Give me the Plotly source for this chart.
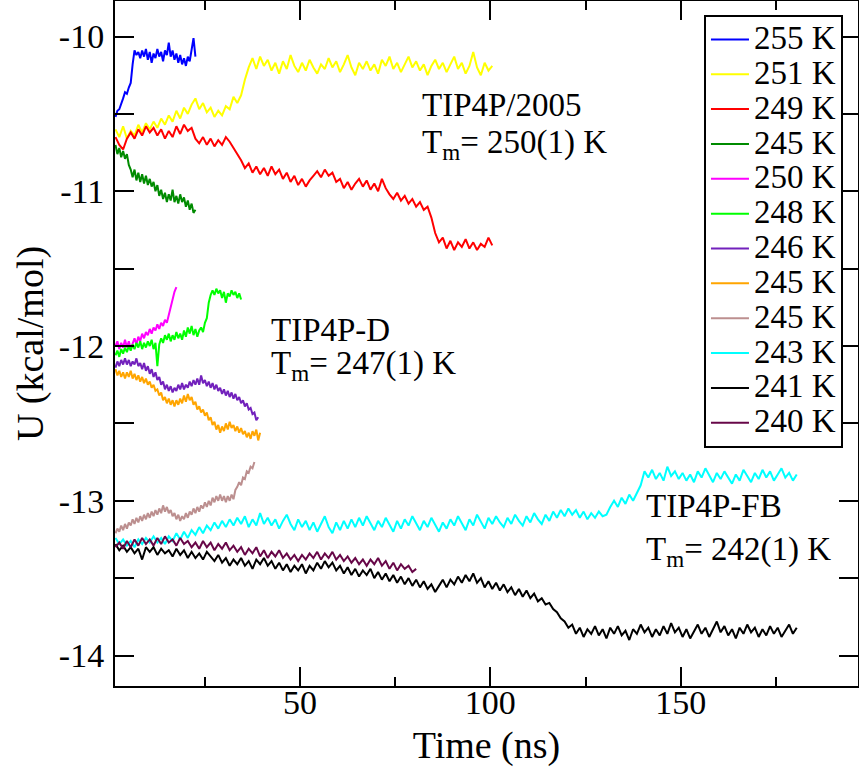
import numpy as np
import plotly.graph_objects as go

# ---------------- data ----------------
labels = ["255 K", "251 K", "249 K", "245 K", "250 K", "248 K",
          "246 K", "245 K", "245 K", "243 K", "241 K", "240 K"]
colors = ["#0000ff", "#ffff00", "#ff0000", "#008b00", "#ff00ff", "#00ff00",
          "#7221bc", "#ffa500", "#bc8f8f", "#00ffff", "#000000", "#670748"]

# sampling of the read-off series (ns)
fine_start, fine_step = 1.5, 0.5
coarse_start, coarse_step = 1.5, 1.0

u255 = [-10.52, -10.48, -10.47, -10.44, -10.40, -10.36, -10.37, -10.33, -10.30, -10.18,
        -10.09, -10.12, -10.10, -10.14, -10.09, -10.13, -10.08, -10.15, -10.10, -10.17,
        -10.11, -10.14, -10.08, -10.13, -10.10, -10.16, -10.09, -10.12, -10.04, -10.13,
        -10.09, -10.15, -10.11, -10.17, -10.12, -10.18, -10.14, -10.19, -10.13, -10.16,
        -10.08, -10.01, -10.13]

u251 = [-10.60, -10.65, -10.58, -10.66, -10.61, -10.64, -10.57, -10.62, -10.56, -10.60,
        -10.55, -10.59, -10.53, -10.57, -10.51, -10.55, -10.48, -10.53, -10.46, -10.50,
        -10.44, -10.40, -10.47, -10.43, -10.49, -10.46, -10.52, -10.48, -10.51, -10.45,
        -10.47, -10.39, -10.43, -10.38, -10.28, -10.20, -10.14, -10.21, -10.13, -10.19,
        -10.15, -10.22, -10.17, -10.24, -10.16, -10.21, -10.12, -10.19, -10.23, -10.17,
        -10.22, -10.15, -10.20, -10.24, -10.18, -10.21, -10.14, -10.20, -10.16, -10.23,
        -10.18, -10.12, -10.20, -10.25, -10.17, -10.21, -10.16, -10.22, -10.18, -10.24,
        -10.15, -10.19, -10.13, -10.21, -10.17, -10.23, -10.18, -10.13, -10.20, -10.16,
        -10.22, -10.18, -10.25, -10.19, -10.15, -10.21, -10.17, -10.23, -10.18, -10.13,
        -10.21, -10.17, -10.24, -10.19, -10.10, -10.20, -10.25, -10.17, -10.22, -10.19]

u249 = [-10.65, -10.70, -10.73, -10.66, -10.62, -10.66, -10.60, -10.64, -10.58, -10.62,
        -10.59, -10.64, -10.60, -10.66, -10.61, -10.65, -10.58, -10.63, -10.57, -10.61,
        -10.59, -10.66, -10.69, -10.65, -10.70, -10.66, -10.71, -10.67, -10.70, -10.65,
        -10.68, -10.72, -10.76, -10.80, -10.85, -10.82, -10.88, -10.84, -10.89, -10.85,
        -10.90, -10.84, -10.89, -10.86, -10.92, -10.88, -10.94, -10.90, -10.96, -10.92,
        -10.97, -10.93, -10.90, -10.87, -10.91, -10.86, -10.90, -10.88, -10.94, -10.92,
        -10.98, -10.94, -10.99, -10.95, -10.92, -10.97, -10.93, -10.99, -10.95, -11.00,
        -10.92, -10.98, -11.02, -11.05, -11.01, -11.06, -11.03, -11.08, -11.05, -11.10,
        -11.07, -11.12, -11.10, -11.17, -11.27, -11.33, -11.30, -11.37, -11.32, -11.38,
        -11.33, -11.36, -11.31, -11.37, -11.33, -11.38, -11.34, -11.36, -11.30, -11.35]

u245a = [-10.70, -10.76, -10.72, -10.78, -10.74, -10.79, -10.76, -10.83, -10.86, -10.91,
         -10.86, -10.93, -10.88, -10.94, -10.89, -10.95, -10.90, -10.96, -10.92, -10.97,
         -10.94, -11.00, -10.96, -11.03, -10.99, -11.05, -11.01, -11.07, -11.02, -11.06,
         -10.99, -11.07, -11.03, -11.08, -11.02, -11.07, -11.04, -11.10, -11.06, -11.12,
         -11.08, -11.14, -11.12]

u250 = [-12.00, -11.97, -12.02, -11.98, -12.01, -11.96, -12.01, -11.97, -12.02, -11.98,
        -11.95, -11.99, -11.94, -11.97, -11.92, -11.95, -11.91, -11.93, -11.89, -11.92,
        -11.88, -11.90, -11.86, -11.89, -11.85, -11.87, -11.83, -11.85, -11.80, -11.74,
        -11.70, -11.65, -11.62]

u248 = [-12.06, -12.03, -12.07, -12.02, -12.05, -12.01, -12.04, -12.00, -12.03, -11.99,
        -12.02, -11.98, -12.01, -11.97, -12.02, -11.98, -12.01, -11.97, -12.00, -11.96,
        -12.02, -11.98, -12.13, -11.99, -11.95, -11.98, -11.93, -11.96, -11.92, -11.97,
        -11.93, -11.96, -11.91, -11.95, -11.92, -11.96, -11.90, -11.94, -11.88, -11.92,
        -11.87, -11.93, -11.89, -11.94, -11.90, -11.88, -11.91, -11.85, -11.82, -11.72,
        -11.67, -11.64, -11.67, -11.63, -11.66, -11.64, -11.69, -11.65, -11.72, -11.66,
        -11.68, -11.64, -11.67, -11.65, -11.69, -11.66, -11.70]

u246 = [-12.14, -12.10, -12.13, -12.09, -12.12, -12.08, -12.12, -12.09, -12.13, -12.10,
        -12.12, -12.08, -12.13, -12.11, -12.15, -12.11, -12.16, -12.13, -12.18, -12.15,
        -12.20, -12.17, -12.22, -12.20, -12.25, -12.23, -12.28, -12.25, -12.29, -12.26,
        -12.30, -12.27, -12.29, -12.25, -12.28, -12.24, -12.28, -12.25, -12.27, -12.23,
        -12.26, -12.22, -12.25, -12.21, -12.25, -12.19, -12.24, -12.22, -12.26, -12.23,
        -12.27, -12.24, -12.28, -12.25, -12.29, -12.27, -12.31, -12.28, -12.32, -12.29,
        -12.33, -12.30, -12.34, -12.31, -12.35, -12.33, -12.37, -12.35, -12.39, -12.37,
        -12.41, -12.40, -12.44, -12.43, -12.48, -12.46]

u245b = [-12.15, -12.19, -12.16, -12.20, -12.17, -12.21, -12.17, -12.20, -12.16, -12.21,
         -12.18, -12.22, -12.19, -12.23, -12.20, -12.24, -12.21, -12.25, -12.23, -12.27,
         -12.25, -12.29, -12.28, -12.32, -12.30, -12.35, -12.33, -12.37, -12.34, -12.38,
         -12.35, -12.39, -12.35, -12.38, -12.34, -12.37, -12.32, -12.36, -12.31, -12.35,
         -12.33, -12.38, -12.36, -12.41, -12.39, -12.43, -12.41, -12.45, -12.43, -12.48,
         -12.46, -12.51, -12.49, -12.54, -12.51, -12.56, -12.52, -12.55, -12.50, -12.54,
         -12.49, -12.53, -12.51, -12.55, -12.52, -12.56, -12.53, -12.57, -12.55, -12.59,
         -12.56, -12.60, -12.55, -12.58, -12.54, -12.61, -12.56]

u245c = [-13.21, -13.18, -13.20, -13.16, -13.19, -13.15, -13.18, -13.14, -13.16, -13.12,
         -13.15, -13.11, -13.14, -13.10, -13.13, -13.09, -13.12, -13.08, -13.11, -13.07,
         -13.10, -13.06, -13.09, -13.05, -13.08, -13.03, -13.07, -13.04, -13.08, -13.06,
         -13.10, -13.08, -13.12, -13.09, -13.13, -13.10, -13.12, -13.08, -13.11, -13.07,
         -13.09, -13.05, -13.08, -13.04, -13.07, -13.03, -13.05, -13.01, -13.04, -13.00,
         -13.03, -12.98, -13.01, -12.97, -13.00, -12.96, -13.00, -12.97, -13.01, -12.97,
         -13.00, -12.96, -12.99, -12.93, -12.91, -12.88, -12.90, -12.85, -12.86, -12.81,
         -12.82, -12.78, -12.79, -12.75]

u243 = [-13.24, -13.28, -13.25, -13.29, -13.26, -13.30, -13.25, -13.28, -13.24, -13.27,
        -13.23, -13.27, -13.24, -13.28, -13.23, -13.26, -13.21, -13.25, -13.20, -13.24,
        -13.19, -13.22, -13.17, -13.21, -13.16, -13.19, -13.14, -13.18, -13.13, -13.17,
        -13.12, -13.16, -13.11, -13.15, -13.10, -13.17, -13.12, -13.16, -13.08, -13.15,
        -13.11, -13.16, -13.12, -13.18, -13.13, -13.09, -13.15, -13.19, -13.12, -13.17,
        -13.13, -13.19, -13.14, -13.20, -13.15, -13.10, -13.17, -13.21, -13.14, -13.19,
        -13.13, -13.18, -13.12, -13.17, -13.11, -13.16, -13.10, -13.15, -13.19, -13.13,
        -13.17, -13.11, -13.16, -13.20, -13.13, -13.18, -13.12, -13.16, -13.10, -13.15,
        -13.19, -13.13, -13.17, -13.11, -13.16, -13.20, -13.14, -13.18, -13.12, -13.16,
        -13.10, -13.15, -13.19, -13.12, -13.16, -13.09, -13.14, -13.18, -13.11, -13.15,
        -13.10, -13.14, -13.17, -13.11, -13.15, -13.09, -13.13, -13.16, -13.10, -13.14,
        -13.08, -13.12, -13.15, -13.09, -13.13, -13.07, -13.11, -13.06, -13.10, -13.05,
        -13.09, -13.06, -13.11, -13.07, -13.12, -13.08, -13.11, -13.07, -13.10, -13.09,
        -13.04, -13.00, -13.04, -12.98, -13.02, -12.96, -13.00, -12.95, -12.90, -12.81,
        -12.85, -12.80, -12.86, -12.82, -12.87, -12.78, -12.84, -12.81, -12.86, -12.82,
        -12.87, -12.83, -12.88, -12.81, -12.85, -12.79, -12.84, -12.88, -12.82, -12.86,
        -12.81, -12.85, -12.89, -12.83, -12.87, -12.80, -12.84, -12.88, -12.82, -12.86,
        -12.80, -12.85, -12.81, -12.87, -12.83, -12.79, -12.85, -12.82, -12.87, -12.83]

u241 = [-13.28, -13.32, -13.29, -13.33, -13.30, -13.34, -13.31, -13.38, -13.30, -13.33,
        -13.30, -13.35, -13.31, -13.34, -13.32, -13.36, -13.31, -13.35, -13.32, -13.37,
        -13.33, -13.37, -13.34, -13.38, -13.33, -13.36, -13.39, -13.35, -13.40, -13.37,
        -13.42, -13.38, -13.41, -13.37, -13.42, -13.39, -13.44, -13.38, -13.41, -13.37,
        -13.42, -13.39, -13.44, -13.40, -13.45, -13.41, -13.46, -13.42, -13.45, -13.41,
        -13.47, -13.42, -13.45, -13.40, -13.44, -13.39, -13.43, -13.40, -13.45, -13.42,
        -13.47, -13.43, -13.48, -13.44, -13.49, -13.45, -13.48, -13.44, -13.50, -13.46,
        -13.51, -13.47, -13.52, -13.48, -13.53, -13.49, -13.54, -13.50, -13.55, -13.51,
        -13.56, -13.52, -13.57, -13.54, -13.59, -13.55, -13.51, -13.56, -13.51, -13.54,
        -13.49, -13.53, -13.48, -13.52, -13.47, -13.53, -13.50, -13.56, -13.52, -13.57,
        -13.53, -13.58, -13.54, -13.59, -13.56, -13.61, -13.57, -13.62, -13.58, -13.63,
        -13.60, -13.65, -13.63, -13.67, -13.66, -13.70, -13.72, -13.76, -13.78, -13.82,
        -13.80, -13.86, -13.82, -13.88, -13.83, -13.86, -13.81, -13.87, -13.83, -13.89,
        -13.82, -13.86, -13.81, -13.87, -13.84, -13.90, -13.83, -13.86, -13.80, -13.85,
        -13.82, -13.88, -13.83, -13.87, -13.81, -13.86, -13.79, -13.85, -13.82, -13.88,
        -13.83, -13.89, -13.84, -13.80, -13.86, -13.82, -13.88, -13.83, -13.78, -13.85,
        -13.81, -13.87, -13.83, -13.89, -13.82, -13.86, -13.80, -13.85, -13.82, -13.88,
        -13.83, -13.87, -13.81, -13.86, -13.82, -13.88, -13.84, -13.80, -13.86, -13.82]

u240 = [-13.30, -13.27, -13.31, -13.26, -13.30, -13.25, -13.29, -13.24, -13.28, -13.25,
        -13.29, -13.24, -13.28, -13.23, -13.27, -13.25, -13.29, -13.24, -13.28, -13.26,
        -13.30, -13.27, -13.31, -13.26, -13.30, -13.27, -13.32, -13.28, -13.31, -13.27,
        -13.32, -13.29, -13.33, -13.30, -13.35, -13.31, -13.34, -13.30, -13.36, -13.32,
        -13.37, -13.33, -13.36, -13.32, -13.37, -13.34, -13.38, -13.35, -13.39, -13.35,
        -13.38, -13.34, -13.37, -13.33, -13.38, -13.34, -13.37, -13.33, -13.38, -13.35,
        -13.39, -13.36, -13.40, -13.37, -13.41, -13.38, -13.42, -13.38, -13.41, -13.37,
        -13.42, -13.39, -13.44, -13.40, -13.45, -13.41, -13.44, -13.42, -13.46, -13.44]

series = [u255, u251, u249, u245a, u250, u248, u246, u245b, u245c, u243, u241, u240]
fine = [True, False, False, True, True, True, True, True, True, False, False, False]

x_ticks = [50, 100, 150]
x_tick_labels = ["50", "100", "150"]
x_minor = [25, 75, 125, 175]
y_ticks = [-10, -11, -12, -13, -14]
y_tick_labels = ["-10", "-11", "-12", "-13", "-14"]
y_minor = [-10.5, -11.5, -12.5, -13.5]

FONT = "Liberation Serif"
X_RANGE = [1.37, 196.6]
Y_RANGE = [-14.197, -9.7706]

fig = go.Figure()
for lab, col, u, f in zip(labels, colors, series, fine):
    if f:
        t = fine_start + fine_step * np.arange(len(u))
    else:
        t = coarse_start + coarse_step * np.arange(len(u))
    fig.add_trace(go.Scatter(
        x=t, y=u, mode="lines",
        line=dict(color=col, width=2),
        name='<span style="font-size:33px">' + lab + "</span>",
    ))

# empty trace that carries the label-only x axis
fig.add_trace(go.Scatter(x=[], y=[], xaxis="x2", yaxis="y", showlegend=False,
                         hoverinfo="skip"))

axis_common = dict(
    showline=True, linewidth=2, linecolor="black", mirror="allticks",
    ticks="inside", ticklen=19, tickwidth=2, tickcolor="black",
    showgrid=False, zeroline=False, automargin=False,
    tickfont=dict(family=FONT, size=34, color="black"),
)

fig.update_layout(
    xaxis=dict(
        range=X_RANGE, tickmode="array", tickvals=x_ticks, ticktext=x_tick_labels,
        showticklabels=False,
        minor=dict(tickmode="array", tickvals=x_minor, ticks="inside", ticklen=9,
                   tickwidth=2, tickcolor="black", showgrid=False),
        title=dict(text="Time (ns)", font=dict(family=FONT, size=38, color="black"),
                   standoff=51),
        **axis_common,
    ),
    xaxis2=dict(
        overlaying="x", anchor="free", position=0.0106, side="bottom",
        range=X_RANGE, tickmode="array", tickvals=x_ticks, ticktext=x_tick_labels,
        ticks="", showline=False, showgrid=False, zeroline=False, automargin=False,
        tickfont=dict(family=FONT, size=34, color="black"),
    ),
    yaxis=dict(
        range=Y_RANGE, tickmode="array", tickvals=y_ticks, ticktext=y_tick_labels,
        minor=dict(tickmode="array", tickvals=y_minor, ticks="inside", ticklen=9,
                   tickwidth=2, tickcolor="black", showgrid=False),
        ticklabelstandoff=2,
        title=dict(text="U (kcal/mol)", font=dict(family=FONT, size=38, color="black"),
                   standoff=4),
        **axis_common,
    ),
)

notes = [
    ("TIP4P/2005", 81.7, -10.321),
    ("T<sub>m</sub>= 250(1) K", 81.7, -10.557),
    ("TIP4P-D", 42.1, -11.772),
    ("T<sub>m</sub>= 247(1) K", 42.1, -11.985),
    ("TIP4P-FB", 140.6, -12.912),
    ("T<sub>m</sub>= 242(1) K", 140.6, -13.192),
]
for txt, ax_, ay_ in notes:
    fig.add_annotation(x=ax_, y=ay_, xref="x", yref="y", text=txt, showarrow=False,
                       xanchor="left", yanchor="top", borderpad=0,
                       font=dict(family=FONT, size=33, color="black"))

fig.update_layout(
    width=859, height=767,
    margin=dict(l=115, r=1, t=1, b=81),
    plot_bgcolor="white", paper_bgcolor="white",
    font=dict(family=FONT, color="black"),
    showlegend=True,
    legend=dict(x=0.7927, y=0.9796, xanchor="left", yanchor="top",
                bordercolor="black", borderwidth=2, bgcolor="white",
                font=dict(family=FONT, size=24.5, color="black"),
                itemwidth=38, tracegroupgap=0),
)

fig.write_html("out.html",
               config={"displayModeBar": False},
               post_script="document.body.style.margin='0';document.body.style.overflow='hidden';")
